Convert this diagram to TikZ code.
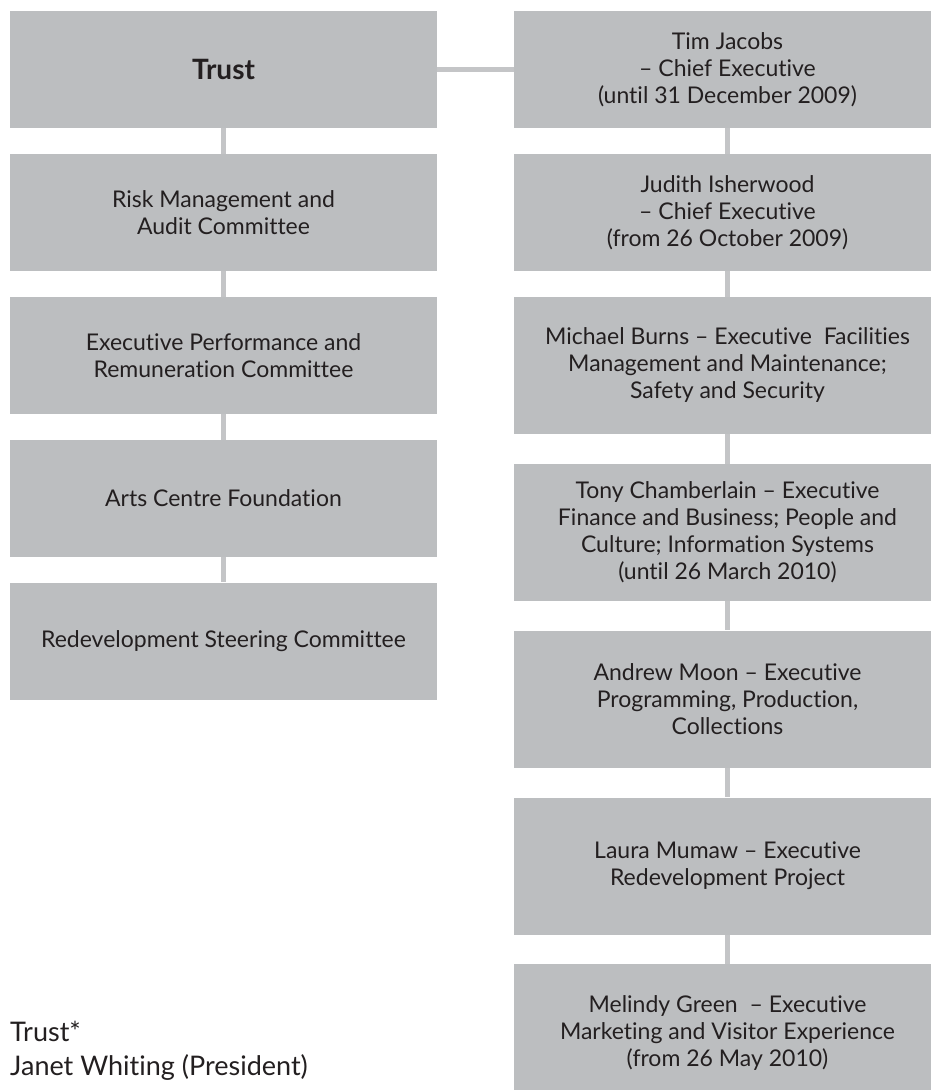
\documentclass[tikz,border=0pt]{standalone}
\usepackage{fontspec}
\setmainfont{Lato}[Ligatures=NoCommon]
\usetikzlibrary{chains,positioning}
\definecolor{boxgrey}{HTML}{BCBEC0}
\definecolor{linkgrey}{HTML}{C4C5C7}
\definecolor{inkblack}{HTML}{231F20}

\begin{document}
\begin{tikzpicture}[
	x=1pt, y=1pt,
	box/.style = {
		on chain, join,
		fill=boxgrey,
		text=inkblack,
		minimum width=427pt,
		minimum height=117pt,
		inner sep=0pt,
		align=center,
		font=\fontsize{23}{27}\selectfont,
	},
	tallbox/.style = {box, minimum height=137pt},
	link/.style = {draw=linkgrey, line width=5pt},
	every join/.style = {link},
	node distance=25.5pt
]

\useasboundingbox (0,0) rectangle (931,-1090);
\clip (0,0) rectangle (931,-1090);

% Left chain: Trust and its committees
\begin{scope}[start chain=going below, shift={(223.5,-69.5)}]
\node [box, font=\fontsize{28}{32}\selectfont\bfseries] (trust) {Trust};
\node [box] (riskaudit) {Risk Management and\\Audit Committee};
\node [box] (remuneration) {Executive Performance and\\Remuneration Committee};
\node [box] (foundation) {Arts Centre Foundation};
\node [box] (steering) {Redevelopment Steering Committee};
\end{scope}
% Left chain ends here

% Right chain: executives
\begin{scope}[start chain=going below, shift={(727.5,-69.5)}]
\node [box] (jacobs) {Tim Jacobs\\– Chief Executive\\(until 31 December 2009)};
\node [box] (isherwood) {Judith Isherwood\\– Chief Executive\\(from 26 October 2009)};
\node [tallbox] (burns) {Michael Burns – Executive~ Facilities\\Management and Maintenance;\\Safety and Security};
\node [tallbox, yshift=-4pt] (chamberlain) {Tony Chamberlain – Executive\\Finance and Business; People and\\Culture; Information Systems\\(until 26 March 2010)};
\node [tallbox, yshift=-4pt] (moon) {Andrew Moon – Executive\\Programming, Production,\\Collections};
\node [tallbox, yshift=-4pt] (mumaw) {Laura Mumaw – Executive\\Redevelopment Project};
\node [tallbox, yshift=-4pt] (green) {Melindy Green~ – Executive\\Marketing and Visitor Experience\\(from 26 May 2010)};
\end{scope}
% Right chain ends here

% Trust to Chief Executive
\draw [link] (trust) -- (jacobs);

% Note under the committees
\node [anchor=base west, inner sep=0pt, text=inkblack,
	font=\fontsize{27}{32}\selectfont] (legend) at (10,-1041) {Trust*};
\node [anchor=base west, inner sep=0pt, text=inkblack,
	font=\fontsize{27}{32}\selectfont] (president) at (10,-1075) {Janet Whiting (President)};

\end{tikzpicture}
\end{document}
